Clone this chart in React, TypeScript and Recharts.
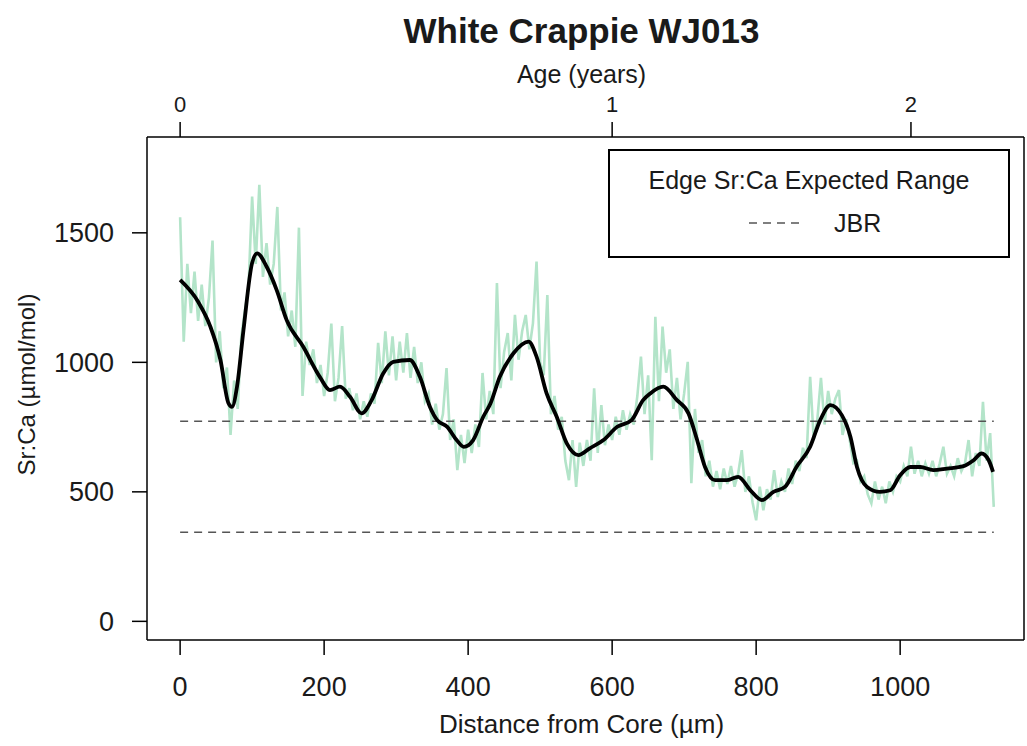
import React from 'react';
import { LineChart, Line, XAxis, YAxis, ReferenceLine, Legend } from 'recharts';

// raw laser-ablation transect, one reading every 5 µm from the core
const rawStep = 5;
const rawSrCa = [
  1560, 1080, 1380, 1190, 1350, 1160, 1300, 1140, 1250, 1470,
  1000, 1120, 900, 980, 720, 930, 820, 1100, 1200, 1290,
  1640, 1380, 1685, 1330, 1460, 1300, 1380, 1600, 1200, 1270,
  1100, 1200, 1060, 1520, 870, 1080, 990, 1050, 920, 990,
  870, 960, 1150, 850, 940, 1140, 860, 900, 815, 880,
  780, 850, 790, 880, 840, 1075, 920, 1120, 950, 1100,
  930, 1080, 960, 1113, 940, 1060, 920, 1000, 850, 880,
  760, 840, 740, 800, 978, 700, 780, 584, 720, 611,
  740, 650, 760, 673, 959, 780, 890, 800, 1306, 900,
  1040, 1113, 930, 1183, 1010, 1120, 1183, 1050, 1150, 1389,
  1000, 950, 1260, 800, 870, 740, 790, 620, 545, 700,
  519, 690, 600, 700, 620, 900, 650, 835, 680, 760,
  700, 790, 720, 815, 740, 800, 760, 870, 1022, 800,
  950, 622, 1176, 850, 1138, 960, 1050, 820, 940, 780,
  880, 1002, 533, 820, 650, 700, 560, 620, 520, 580,
  510, 590, 530, 600, 520, 570, 661, 500, 560, 460,
  390, 520, 429, 510, 470, 584, 480, 540, 500, 590,
  530, 620, 580, 670, 630, 944, 700, 780, 940, 760,
  890, 800, 860, 893, 720, 780, 700, 611, 620, 540,
  560, 490, 456, 540, 470, 520, 456, 540, 500, 560,
  540, 600, 560, 674, 570, 620, 560, 610, 570, 620,
  560, 610, 674, 570, 600, 560, 630, 580, 610, 700,
  560, 650, 600, 848, 620, 727, 442,
];

// smoothed fit
const smoothDistance = [
  0, 25, 42, 56, 67, 72, 79, 88, 100, 107, 120, 134, 148, 171, 194, 208, 222,
  236, 252, 266, 282, 296, 319, 333, 347, 357, 371, 384, 394, 407, 421, 431,
  444, 463, 484, 495, 509, 523, 537, 553, 569, 588, 607, 627, 643, 653, 671,
  690, 706, 718, 729, 743, 759, 775, 792, 808, 824, 840, 856, 875, 889, 903,
  919, 931, 940, 954, 972, 986, 1000, 1014, 1028, 1046, 1065, 1088, 1102,
  1113, 1123, 1129,
];
const smoothSrCa = [
  1318, 1234, 1138, 1009, 843, 828, 906, 1125, 1384, 1421, 1370, 1280, 1163,
  1060, 944, 893, 906, 867, 803, 854, 957, 1002, 1009, 944, 828, 777, 751,
  700, 674, 700, 790, 841, 944, 1035, 1080, 1022, 880, 790, 687, 642, 668,
  700, 751, 777, 854, 880, 906, 854, 803, 700, 596, 545, 545, 558, 506, 468,
  500, 519, 596, 674, 777, 835, 796, 712, 596, 519, 500, 506, 564, 596, 596,
  584, 590, 599, 622, 648, 622, 577,
];

const jbrRange = [344, 773];
const jbrExtent = [0, 1130];

const distanceTicks = [0, 200, 400, 600, 800, 1000];
const srCaTicks = [0, 500, 1000, 1500];
const ageLabels = ['0', '1', '2'];
const ageTickDistance = [0, 600, 1015];

const xDomain = [-46, 1172];
const yDomain = [-72, 1870];

const rawData = rawSrCa.map((v, i) => ({ d: i * rawStep, v }));
const smoothData = smoothDistance.map((d, i) => ({ d, v: smoothSrCa[i] }));

const FONT = '"Liberation Sans", Arial, sans-serif';
const INK = '#1a1a1a';
const axisStroke = { stroke: '#000', strokeWidth: 1.5 };

const TopLabel = ({ viewBox }: any) => {
  const cx = viewBox.x + viewBox.width / 2 - 4;
  return (
    <g fontFamily={FONT} fill={INK} textAnchor="middle">
      <text x={cx} y={viewBox.y + 43} fontSize={35} fontWeight="bold">White Crappie WJ013</text>
      <text x={cx} y={viewBox.y + 83} fontSize={25}>Age (years)</text>
    </g>
  );
};

const BottomLabel = ({ viewBox }: any) => (
  <text x={viewBox.x + viewBox.width / 2 - 4} y={viewBox.y + 93} textAnchor="middle"
    fontFamily={FONT} fontSize={26} fill={INK}>
    Distance from Core (µm)
  </text>
);

const LeftLabel = ({ viewBox }: any) => {
  const x = viewBox.x + 35;
  const y = viewBox.y + viewBox.height / 2 - 4;
  return (
    <text x={x} y={y} transform={`rotate(-90, ${x}, ${y})`} textAnchor="middle"
      fontFamily={FONT} fontSize={24} fill={INK}>
      Sr:Ca (µmol/mol)
    </text>
  );
};

const LegendBox = () => (
  <div style={{
    boxSizing: 'border-box', width: 402, height: 109, border: '2px solid #000',
    background: '#fff', fontFamily: FONT, color: INK, position: 'relative',
  }}>
    <div style={{ position: 'absolute', top: 15, left: 0, right: 0, textAlign: 'center', fontSize: 25 }}>
      Edge Sr:Ca Expected Range
    </div>
    <svg width={60} height={6} style={{ position: 'absolute', left: 139, top: 69 }}>
      <line x1={0} y1={3} x2={56} y2={3} stroke="#555" strokeWidth={1.5} strokeDasharray="8 6" />
    </svg>
    <div style={{ position: 'absolute', top: 58, left: 224, fontSize: 25 }}>JBR</div>
  </div>
);

export default function App() {
  return (
    <div style={{ position: 'absolute', left: 0, top: 0, width: 1027, height: 746, background: '#fff' }}>
      <LineChart width={1027} height={746} margin={{ top: 0, right: 0, bottom: 0, left: 0 }}>
        <XAxis xAxisId="bottom" type="number" dataKey="d" domain={xDomain} ticks={distanceTicks}
          allowDataOverflow height={106} tickSize={15} tickMargin={22}
          axisLine={axisStroke} tickLine={axisStroke}
          tick={{ fontSize: 27, fill: INK, fontFamily: FONT }}
          label={<BottomLabel />} />
        <XAxis xAxisId="top" orientation="top" type="number" dataKey="d" domain={xDomain}
          ticks={ageTickDistance} allowDataOverflow height={137} tickSize={15} tickMargin={10}
          tickFormatter={(v: number) => ageLabels[ageTickDistance.indexOf(v)]}
          axisLine={axisStroke} tickLine={axisStroke}
          tick={{ fontSize: 22, fill: INK, fontFamily: FONT }}
          label={<TopLabel />} />
        <YAxis yAxisId="left" type="number" domain={yDomain} ticks={srCaTicks} allowDataOverflow
          width={147} tickSize={15} tickMargin={18}
          axisLine={axisStroke} tickLine={axisStroke}
          tick={{ fontSize: 27, fill: INK, fontFamily: FONT }}
          label={<LeftLabel />} />
        <YAxis yAxisId="right" orientation="right" type="number" domain={yDomain} allowDataOverflow
          width={3} tick={false} tickLine={false} axisLine={axisStroke} />
        <Line xAxisId="bottom" yAxisId="left" data={rawData} dataKey="v" type="linear"
          stroke="#b3e4c9" strokeWidth={2.6} dot={false} isAnimationActive={false} />
        {jbrRange.map((v) => (
          <ReferenceLine key={v} xAxisId="bottom" yAxisId="left"
            segment={[{ x: jbrExtent[0], y: v }, { x: jbrExtent[1], y: v }]}
            stroke="#555" strokeWidth={1.5} strokeDasharray="8 6" />
        ))}
        <Line xAxisId="bottom" yAxisId="left" data={smoothData} dataKey="v" type="monotone"
          stroke="#000" strokeWidth={3.8} dot={false} isAnimationActive={false} />
        <Legend verticalAlign="middle" align="center" layout="horizontal"
          wrapperStyle={{ left: 608, top: 149, width: 402, height: 109 }}
          content={() => <LegendBox />} />
      </LineChart>
    </div>
  );
}
